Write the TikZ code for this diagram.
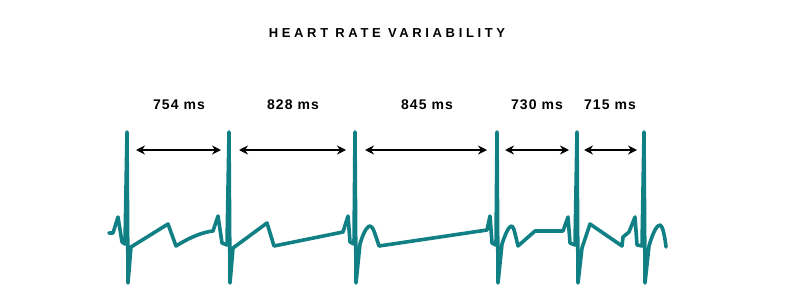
\documentclass[tikz,border=0pt]{standalone}
\usepackage{fontspec}
\setmainfont{Liberation Sans}
\newfontfamily\titlefont[LetterSpace=28]{Liberation Sans}
\newfontfamily\labelfont[LetterSpace=8]{Liberation Sans}
\usetikzlibrary{arrows.meta}
\definecolor{ecg}{RGB}{16,128,133}
\begin{document}
\begin{tikzpicture}[x=1pt,y=-1pt,
  ecgline/.style={draw=ecg,line width=3.6pt,line join=round,line cap=round},
  interval/.style={draw=black,line width=2.4pt,{Stealth[length=9pt,width=9pt]}-{Stealth[length=9pt,width=9pt]}},
  rrlabel/.style={font=\labelfont\bfseries\fontsize{14}{16}\selectfont,text=black,inner sep=0pt},
  ttl/.style={font=\titlefont\bfseries\fontsize{13}{15}\selectfont,text=black,inner sep=0pt}]
\useasboundingbox (0,0) rectangle (800,300);
\node[ttl] (title) at (387,33) {HEART RATE VARIABILITY};
% ECG trace
\draw[ecgline] (109,233) -- (113,233) -- (118,217) -- (122,242) -- (125,244) -- (127,132) -- (128,283) -- (131,247)
  -- (168,224) -- (176,246) .. controls (192,236) and (204,232) .. (213,231) -- (218,216) -- (222,243) -- (227,245)
  -- (229,132) -- (230,283) -- (233,248) -- (267,223) -- (274,246) -- (343,232) -- (348,216) -- (350,242) -- (354,244)
  -- (355,132) -- (356,283) -- (360,244) .. controls (364,230) and (368,226) .. (370,226) .. controls (373,226) and (375,234) .. (379,246)
  -- (487,230) -- (490,216) -- (492,243) -- (496,245)
  -- (497,132) -- (498,283) -- (502,244) .. controls (506,232) and (509,226) .. (512,226) .. controls (514,227) and (516,238) .. (518,246)
  -- (535,231) -- (563,231) -- (568,217) -- (570,243) -- (575,245)
  -- (577,132) -- (578,283) -- (582,248) -- (590,224) -- (622,246) -- (623,237) -- (629,232) -- (635,217) -- (637,245) -- (642,246)
  -- (644,132) -- (645,283) -- (649,246) .. controls (653,232) and (657,225) .. (660,225) .. controls (663,226) and (665,238) .. (666,247);
% interval arrows
\coordinate (a1l) at (136,150); \coordinate (a1r) at (221,150);
\coordinate (a2l) at (239,150); \coordinate (a2r) at (346,150);
\coordinate (a3l) at (365,150); \coordinate (a3r) at (487,150);
\coordinate (a4l) at (505,150); \coordinate (a4r) at (569,150);
\coordinate (a5l) at (584,150); \coordinate (a5r) at (637,150);
\draw[interval] (a1l) -- (a1r);
\draw[interval] (a2l) -- (a2r);
\draw[interval] (a3l) -- (a3r);
\draw[interval] (a4l) -- (a4r);
\draw[interval] (a5l) -- (a5r);
\node[rrlabel] (l1) at (179,105) {754 ms};
\node[rrlabel] (l2) at (293,105) {828 ms};
\node[rrlabel] (l3) at (427,105) {845 ms};
\node[rrlabel] (l4) at (537,105) {730 ms};
\node[rrlabel] (l5) at (610,105) {715 ms};
\end{tikzpicture}
\end{document}
